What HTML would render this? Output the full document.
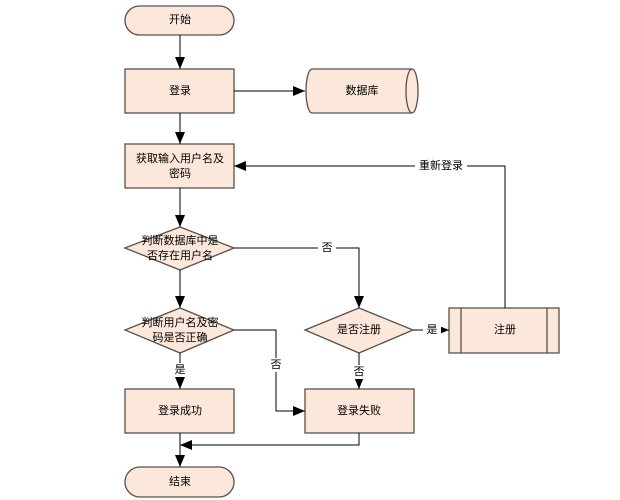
<!DOCTYPE html>
<html><head><meta charset="utf-8"><style>body{margin:0;background:#fff}svg{display:block}text{font-family:"Liberation Sans","Noto Sans CJK SC",sans-serif;font-size:11px;text-anchor:middle;dominant-baseline:central;fill:#000}</style></head><body>
<svg width="620" height="500" viewBox="0 0 620 500">
<defs><marker id="a" markerWidth="12" markerHeight="10" refX="12" refY="5" orient="auto" markerUnits="userSpaceOnUse"><path d="M0,0L12,5L0,10z" fill="#000"/></marker></defs>
<g fill="#fbe8da" stroke="#5a5048" stroke-width="1.3">
<rect x="125" y="6" width="109" height="29" rx="14.5"/>
<rect x="125" y="69" width="109" height="44"/>
<path d="M312,69H412A6,22 0 0 1 412,113H312A6,22 0 0 1 312,69Z"/>
<path d="M412,69A6,22 0 0 0 412,113" fill="none"/>
<rect x="125" y="144" width="109" height="44"/>
<path d="M180,227L234,248L180,270L125,248Z"/>
<path d="M180,308L234,330L180,353L125,330Z"/>
<path d="M359,308L413,330L359,353L305,330Z"/>
<rect x="449" y="308" width="110" height="45"/>
<line x1="461" y1="308" x2="461" y2="353"/><line x1="547" y1="308" x2="547" y2="353"/>
<rect x="125" y="389" width="109" height="44"/>
<rect x="305" y="389" width="109" height="44"/>
<rect x="125" y="467" width="109" height="30" rx="15"/>
</g>
<g stroke="#000" stroke-width="1" fill="none" marker-end="url(#a)">
<line x1="180" y1="35" x2="180" y2="69"/>
<line x1="234" y1="91" x2="305" y2="91"/>
<line x1="180" y1="113" x2="180" y2="144"/>
<line x1="180" y1="188" x2="180" y2="227"/>
<line x1="180" y1="270" x2="180" y2="308"/>
<polyline points="234,248 359,248 359,308"/>
<polyline points="505,308 505,166 234,166"/>
<line x1="413" y1="330" x2="449" y2="330"/>
<line x1="180" y1="353" x2="180" y2="389"/>
<polyline points="234,330 276,330 276,411 305,411"/>
<line x1="359" y1="353" x2="359" y2="389"/>
<line x1="180" y1="433" x2="180" y2="467"/>
<polyline points="359,433 359,445 180,445"/>
</g>
<g fill="#fff">
<rect x="318" y="241" width="18" height="14"/><rect x="423" y="323" width="18" height="14"/>
<rect x="171" y="363" width="18" height="14"/><rect x="350" y="365" width="18" height="14"/>
<rect x="267" y="358" width="18" height="14"/><rect x="415" y="159" width="52" height="14"/>
</g>
<text x="180" y="20">开始</text><text x="180" y="91">登录</text><text x="362" y="91">数据库</text>
<text x="180" y="159">获取输入用户名及</text><text x="180" y="174">密码</text>
<text x="180" y="241">判断数据库中是</text><text x="180" y="256">否存在用户名</text>
<text x="180" y="323">判断用户名及密</text><text x="180" y="338">码是否正确</text>
<text x="359" y="330">是否注册</text><text x="505" y="330">注册</text>
<text x="180" y="411">登录成功</text><text x="359" y="411">登录失败</text><text x="180" y="482">结束</text>
<text x="327" y="248">否</text><text x="432" y="330">是</text><text x="180" y="370">是</text>
<text x="359" y="372">否</text><text x="276" y="365">否</text><text x="441" y="166">重新登录</text>
</svg></body></html>
